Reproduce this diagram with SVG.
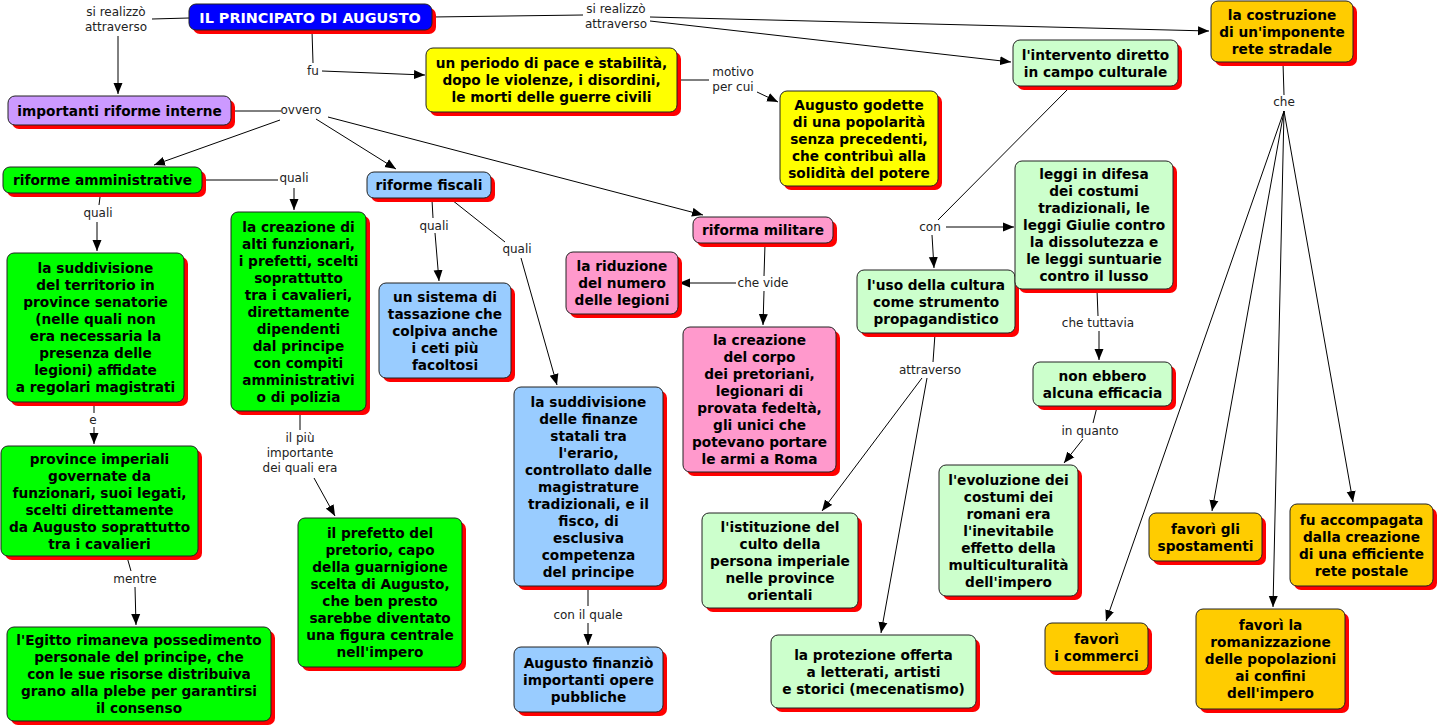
<svg xmlns="http://www.w3.org/2000/svg" width="1440" height="728" viewBox="0 0 1440 728">
<style>
.sh{fill:#ff0000}
.bx{stroke:#222;stroke-width:1}
.blue{fill:#0000ff}.purple{fill:#cc99ff}.green{fill:#00ff00}.lblue{fill:#99ccff}.pink{fill:#ff99cc}.yellow{fill:#ffff00}.lgreen{fill:#ccffcc}.orange{fill:#ffcc00}
.t{font-family:"DejaVu Sans",Verdana,sans-serif;font-weight:bold;font-size:13.7px;fill:#000;text-anchor:middle}
.tt{font-family:"DejaVu Sans",Verdana,sans-serif;font-weight:bold;font-size:14.4px;fill:#fff;text-anchor:middle}
.lb{font-family:"DejaVu Sans",Verdana,sans-serif;font-size:12px;fill:#222;text-anchor:middle}
.ln{stroke:#000;stroke-width:1;fill:none}
.ar{stroke:#000;stroke-width:1;fill:none;marker-end:url(#ah)}
</style>
<defs>
<marker id="ah" markerUnits="userSpaceOnUse" markerWidth="12" markerHeight="10" refX="11" refY="5" orient="auto"><path d="M0,0.5 L11,5 L0,9.5 z" fill="#000"/></marker>
</defs>
<rect width="1440" height="728" fill="#fff"/>
<g id="connectors">
<line class="ln" x1="189" y1="18" x2="152" y2="19"/>
<line class="ar" x1="118" y1="36" x2="118" y2="94"/>
<line class="ln" x1="312" y1="31" x2="313" y2="63"/>
<line class="ar" x1="322" y1="71" x2="425" y2="75"/>
<line class="ln" x1="432" y1="17" x2="583" y2="15"/>
<line class="ar" x1="650" y1="17" x2="1209" y2="31"/>
<line class="ar" x1="650" y1="21" x2="1011" y2="62"/>
<line class="ln" x1="677" y1="80" x2="709" y2="80"/>
<line class="ar" x1="757" y1="92" x2="778" y2="102"/>
<line class="ln" x1="231" y1="111" x2="281" y2="111"/>
<line class="ar" x1="280" y1="120" x2="154" y2="165"/>
<line class="ar" x1="316" y1="119" x2="396" y2="169"/>
<line class="ar" x1="328" y1="117" x2="703" y2="215"/>
<line class="ln" x1="202" y1="180" x2="278" y2="180"/>
<line class="ar" x1="294" y1="188" x2="294" y2="210"/>
<line class="ln" x1="100" y1="197" x2="99" y2="205"/>
<line class="ar" x1="97" y1="222" x2="97" y2="251"/>
<line class="ln" x1="432" y1="200" x2="433" y2="218"/>
<line class="ar" x1="435" y1="233" x2="439" y2="281"/>
<line class="ln" x1="452" y1="200" x2="505" y2="242"/>
<line class="ar" x1="521" y1="258" x2="557" y2="385"/>
<line class="ln" x1="765" y1="244" x2="764" y2="276"/>
<line class="ar" x1="736" y1="283" x2="679" y2="283"/>
<line class="ar" x1="764" y1="291" x2="763" y2="325"/>
<line class="ln" x1="1070" y1="87" x2="938" y2="220"/>
<line class="ar" x1="946" y1="227" x2="1014" y2="227"/>
<line class="ar" x1="932" y1="235" x2="934" y2="268"/>
<line class="ln" x1="1097" y1="290" x2="1098" y2="316"/>
<line class="ar" x1="1099" y1="331" x2="1099" y2="360"/>
<line class="ln" x1="1097" y1="407" x2="1093" y2="423"/>
<line class="ar" x1="1083" y1="439" x2="1064" y2="463"/>
<line class="ln" x1="935" y1="334" x2="933" y2="362"/>
<line class="ar" x1="922" y1="378" x2="822" y2="511"/>
<line class="ar" x1="927" y1="378" x2="881" y2="633"/>
<line class="ln" x1="588" y1="587" x2="588" y2="606"/>
<line class="ar" x1="588" y1="623" x2="588" y2="645"/>
<line class="ln" x1="1283" y1="63" x2="1284" y2="95"/>
<line class="ar" x1="1284" y1="111" x2="1106" y2="621"/>
<line class="ar" x1="1284" y1="111" x2="1212" y2="511"/>
<line class="ar" x1="1284" y1="111" x2="1273" y2="607"/>
<line class="ar" x1="1284" y1="111" x2="1353" y2="502"/>
<line class="ln" x1="94" y1="403" x2="94" y2="413"/>
<line class="ar" x1="94" y1="427" x2="94" y2="444"/>
<line class="ln" x1="127" y1="557" x2="131" y2="571"/>
<line class="ar" x1="135" y1="587" x2="136" y2="625"/>
<line class="ln" x1="300" y1="412" x2="300" y2="430"/>
<line class="ar" x1="314" y1="478" x2="335" y2="516"/>
</g>
<g id="labels">
<text class="lb" x="116" y="16">si realizzò</text><text class="lb" x="116" y="31">attraverso</text>
<text class="lb" x="313" y="75">fu</text>
<text class="lb" x="616" y="13">si realizzò</text><text class="lb" x="616" y="28">attraverso</text>
<text class="lb" x="733" y="76">motivo</text><text class="lb" x="733" y="91">per cui</text>
<text class="lb" x="301" y="114">ovvero</text>
<text class="lb" x="294" y="182">quali</text>
<text class="lb" x="98" y="217">quali</text>
<text class="lb" x="434" y="230">quali</text>
<text class="lb" x="517" y="253">quali</text>
<text class="lb" x="763" y="287">che vide</text>
<text class="lb" x="930" y="231">con</text>
<text class="lb" x="1098" y="327">che tuttavia</text>
<text class="lb" x="930" y="374">attraverso</text>
<text class="lb" x="1090" y="435">in quanto</text>
<text class="lb" x="588" y="619">con il quale</text>
<text class="lb" x="1284" y="106">che</text>
<text class="lb" x="93" y="424">e</text>
<text class="lb" x="135" y="583">mentre</text>
<text class="lb" x="300" y="442">il più</text><text class="lb" x="300" y="457">importante</text><text class="lb" x="300" y="472">dei quali era</text>
</g>
<g id="n-title"><rect class="sh" x="193" y="8" width="243" height="26" rx="7"/><rect class="bx blue" x="189" y="4" width="243" height="26" rx="7"/><text class="tt" x="310" y="23">IL PRINCIPATO DI AUGUSTO</text></g>
<g id="n-riforme-interne"><rect class="sh" x="12" y="100" width="223" height="29" rx="7"/><rect class="bx purple" x="8" y="96" width="223" height="29" rx="7"/><text class="t" x="119.5" y="115.5">importanti riforme interne</text></g>
<g id="n-pace"><rect class="sh" x="430" y="52" width="251" height="64" rx="7"/><rect class="bx yellow" x="426" y="48" width="251" height="64" rx="7"/><text class="t"><tspan x="551.5" y="68">un periodo di pace e stabilità,</tspan><tspan x="551.5" y="85">dopo le violenze, i disordini,</tspan><tspan x="551.5" y="102">le morti delle guerre civili</tspan></text></g>
<g id="n-popolarita"><rect class="sh" x="784" y="95" width="158" height="95" rx="7"/><rect class="bx yellow" x="780" y="91" width="158" height="95" rx="7"/><text class="t"><tspan x="859" y="109.5">Augusto godette</tspan><tspan x="859" y="126.5">di una popolarità</tspan><tspan x="859" y="143.5">senza precedenti,</tspan><tspan x="859" y="160.5">che contribuì alla</tspan><tspan x="859" y="177.5">solidità del potere</tspan></text></g>
<g id="n-intervento"><rect class="sh" x="1017" y="44" width="165" height="46" rx="7"/><rect class="bx lgreen" x="1013" y="40" width="165" height="46" rx="7"/><text class="t"><tspan x="1095.5" y="59.5">l'intervento diretto</tspan><tspan x="1095.5" y="76.5">in campo culturale</tspan></text></g>
<g id="n-rete"><rect class="sh" x="1215" y="5" width="142" height="61" rx="7"/><rect class="bx orange" x="1211" y="1" width="142" height="61" rx="7"/><text class="t"><tspan x="1282" y="19.5">la costruzione</tspan><tspan x="1282" y="36.5">di un'imponente</tspan><tspan x="1282" y="53.5">rete stradale</tspan></text></g>
<g id="n-amministrative"><rect class="sh" x="7" y="171" width="199" height="26" rx="7"/><rect class="bx green" x="3" y="167" width="199" height="26" rx="7"/><text class="t" x="102.5" y="185">riforme amministrative</text></g>
<g id="n-senatorie"><rect class="sh" x="11" y="257" width="177" height="149" rx="7"/><rect class="bx green" x="7" y="253" width="177" height="149" rx="7"/><text class="t"><tspan x="95.5" y="273">la suddivisione</tspan><tspan x="95.5" y="290">del territorio in</tspan><tspan x="95.5" y="307">province senatorie</tspan><tspan x="95.5" y="324">(nelle quali non</tspan><tspan x="95.5" y="341">era necessaria la</tspan><tspan x="95.5" y="358">presenza delle</tspan><tspan x="95.5" y="375">legioni) affidate</tspan><tspan x="95.5" y="392">a regolari magistrati</tspan></text></g>
<g id="n-funzionari"><rect class="sh" x="235" y="216" width="135" height="199" rx="7"/><rect class="bx green" x="231" y="212" width="135" height="199" rx="7"/><text class="t"><tspan x="298.5" y="231.5">la creazione di</tspan><tspan x="298.5" y="248.5">alti funzionari,</tspan><tspan x="298.5" y="265.5">i prefetti, scelti</tspan><tspan x="298.5" y="282.5">soprattutto</tspan><tspan x="298.5" y="299.5">tra i cavalieri,</tspan><tspan x="298.5" y="316.5">direttamente</tspan><tspan x="298.5" y="333.5">dipendenti</tspan><tspan x="298.5" y="350.5">dal principe</tspan><tspan x="298.5" y="367.5">con compiti</tspan><tspan x="298.5" y="384.5">amministrativi</tspan><tspan x="298.5" y="401.5">o di polizia</tspan></text></g>
<g id="n-fiscali"><rect class="sh" x="371" y="176" width="124" height="26" rx="7"/><rect class="bx lblue" x="367" y="172" width="124" height="26" rx="7"/><text class="t" x="429" y="190">riforme fiscali</text></g>
<g id="n-tassazione"><rect class="sh" x="383" y="287" width="132" height="95" rx="7"/><rect class="bx lblue" x="379" y="283" width="132" height="95" rx="7"/><text class="t"><tspan x="445" y="301.5">un sistema di</tspan><tspan x="445" y="318.5">tassazione che</tspan><tspan x="445" y="335.5">colpiva anche</tspan><tspan x="445" y="352.5">i ceti più</tspan><tspan x="445" y="369.5">facoltosi</tspan></text></g>
<g id="n-militare"><rect class="sh" x="697" y="221" width="140" height="26" rx="7"/><rect class="bx pink" x="693" y="217" width="140" height="26" rx="7"/><text class="t" x="763" y="235">riforma militare</text></g>
<g id="n-legioni"><rect class="sh" x="570" y="256" width="112" height="62" rx="7"/><rect class="bx pink" x="566" y="252" width="112" height="62" rx="7"/><text class="t"><tspan x="622" y="271">la riduzione</tspan><tspan x="622" y="288">del numero</tspan><tspan x="622" y="305">delle legioni</tspan></text></g>
<g id="n-pretoriani"><rect class="sh" x="687" y="331" width="153" height="145" rx="7"/><rect class="bx pink" x="683" y="327" width="153" height="145" rx="7"/><text class="t"><tspan x="759.5" y="345">la creazione</tspan><tspan x="759.5" y="362">del corpo</tspan><tspan x="759.5" y="379">dei pretoriani,</tspan><tspan x="759.5" y="396">legionari di</tspan><tspan x="759.5" y="413">provata fedeltà,</tspan><tspan x="759.5" y="430">gli unici che</tspan><tspan x="759.5" y="447">potevano portare</tspan><tspan x="759.5" y="464">le armi a Roma</tspan></text></g>
<g id="n-finanze"><rect class="sh" x="518" y="391" width="149" height="199" rx="7"/><rect class="bx lblue" x="514" y="387" width="149" height="199" rx="7"/><text class="t"><tspan x="588.5" y="406.5">la suddivisione</tspan><tspan x="588.5" y="423.5">delle finanze</tspan><tspan x="588.5" y="440.5">statali tra</tspan><tspan x="588.5" y="457.5">l'erario,</tspan><tspan x="588.5" y="474.5">controllato dalle</tspan><tspan x="588.5" y="491.5">magistrature</tspan><tspan x="588.5" y="508.5">tradizionali, e il</tspan><tspan x="588.5" y="525.5">fisco, di</tspan><tspan x="588.5" y="542.5">esclusiva</tspan><tspan x="588.5" y="559.5">competenza</tspan><tspan x="588.5" y="576.5">del principe</tspan></text></g>
<g id="n-opere"><rect class="sh" x="518" y="651" width="149" height="65" rx="7"/><rect class="bx lblue" x="514" y="647" width="149" height="65" rx="7"/><text class="t"><tspan x="588.5" y="667.5">Augusto finanziò</tspan><tspan x="588.5" y="684.5">importanti opere</tspan><tspan x="588.5" y="701.5">pubbliche</tspan></text></g>
<g id="n-cultura"><rect class="sh" x="861" y="274" width="158" height="63" rx="7"/><rect class="bx lgreen" x="857" y="270" width="158" height="63" rx="7"/><text class="t"><tspan x="936" y="289.5">l'uso della cultura</tspan><tspan x="936" y="306.5">come strumento</tspan><tspan x="936" y="323.5">propagandistico</tspan></text></g>
<g id="n-leggi"><rect class="sh" x="1019" y="165" width="158" height="128" rx="7"/><rect class="bx lgreen" x="1015" y="161" width="158" height="128" rx="7"/><text class="t"><tspan x="1094" y="179">leggi in difesa</tspan><tspan x="1094" y="196">dei costumi</tspan><tspan x="1094" y="213">tradizionali, le</tspan><tspan x="1094" y="230">leggi Giulie contro</tspan><tspan x="1094" y="247">la dissolutezza e</tspan><tspan x="1094" y="264">le leggi suntuarie</tspan><tspan x="1094" y="281">contro il lusso</tspan></text></g>
<g id="n-efficacia"><rect class="sh" x="1037" y="366" width="139" height="44" rx="7"/><rect class="bx lgreen" x="1033" y="362" width="139" height="44" rx="7"/><text class="t"><tspan x="1102.5" y="380.5">non ebbero</tspan><tspan x="1102.5" y="397.5">alcuna efficacia</tspan></text></g>
<g id="n-evoluzione"><rect class="sh" x="943" y="469" width="139" height="131" rx="7"/><rect class="bx lgreen" x="939" y="465" width="139" height="131" rx="7"/><text class="t"><tspan x="1008.5" y="484.5">l'evoluzione dei</tspan><tspan x="1008.5" y="501.5">costumi dei</tspan><tspan x="1008.5" y="518.5">romani era</tspan><tspan x="1008.5" y="535.5">l'inevitabile</tspan><tspan x="1008.5" y="552.5">effetto della</tspan><tspan x="1008.5" y="569.5">multiculturalità</tspan><tspan x="1008.5" y="586.5">dell'impero</tspan></text></g>
<g id="n-spostamenti"><rect class="sh" x="1153" y="517" width="113" height="48" rx="7"/><rect class="bx orange" x="1149" y="513" width="113" height="48" rx="7"/><text class="t"><tspan x="1205.5" y="533.5">favorì gli</tspan><tspan x="1205.5" y="550.5">spostamenti</tspan></text></g>
<g id="n-postale"><rect class="sh" x="1294" y="508" width="143" height="82" rx="7"/><rect class="bx orange" x="1290" y="504" width="143" height="82" rx="7"/><text class="t"><tspan x="1361.5" y="524.5">fu accompagata</tspan><tspan x="1361.5" y="541.5">dalla creazione</tspan><tspan x="1361.5" y="558.5">di una efficiente</tspan><tspan x="1361.5" y="575.5">rete postale</tspan></text></g>
<g id="n-commerci"><rect class="sh" x="1049" y="627" width="103" height="48" rx="7"/><rect class="bx orange" x="1045" y="623" width="103" height="48" rx="7"/><text class="t"><tspan x="1096.5" y="643.5">favorì</tspan><tspan x="1096.5" y="660.5">i commerci</tspan></text></g>
<g id="n-romanizzazione"><rect class="sh" x="1200" y="613" width="149" height="100" rx="7"/><rect class="bx orange" x="1196" y="609" width="149" height="100" rx="7"/><text class="t"><tspan x="1270.5" y="630">favorì la</tspan><tspan x="1270.5" y="647">romanizzazione</tspan><tspan x="1270.5" y="664">delle popolazioni</tspan><tspan x="1270.5" y="681">ai confini</tspan><tspan x="1270.5" y="698">dell'impero</tspan></text></g>
<g id="n-mecenatismo"><rect class="sh" x="775" y="639" width="205" height="73" rx="7"/><rect class="bx lgreen" x="771" y="635" width="205" height="73" rx="7"/><text class="t"><tspan x="873.5" y="659.5">la protezione offerta</tspan><tspan x="873.5" y="676.5">a letterati, artisti</tspan><tspan x="873.5" y="693.5">e storici (mecenatismo)</tspan></text></g>
<g id="n-culto"><rect class="sh" x="706" y="517" width="156" height="95" rx="7"/><rect class="bx lgreen" x="702" y="513" width="156" height="95" rx="7"/><text class="t"><tspan x="780" y="531.5">l'istituzione del</tspan><tspan x="780" y="548.5">culto della</tspan><tspan x="780" y="565.5">persona imperiale</tspan><tspan x="780" y="582.5">nelle province</tspan><tspan x="780" y="599.5">orientali</tspan></text></g>
<g id="n-imperiali"><rect class="sh" x="5" y="450" width="197" height="110" rx="7"/><rect class="bx green" x="1" y="446" width="197" height="110" rx="7"/><text class="t"><tspan x="99.5" y="463.5">province imperiali</tspan><tspan x="99.5" y="480.5">governate da</tspan><tspan x="99.5" y="497.5">funzionari, suoi legati,</tspan><tspan x="99.5" y="514.5">scelti direttamente</tspan><tspan x="99.5" y="531.5">da Augusto soprattutto</tspan><tspan x="99.5" y="548.5">tra i cavalieri</tspan></text></g>
<g id="n-egitto"><rect class="sh" x="11" y="631" width="264" height="94" rx="7"/><rect class="bx green" x="7" y="627" width="264" height="94" rx="7"/><text class="t"><tspan x="139" y="645">l'Egitto rimaneva possedimento</tspan><tspan x="139" y="662">personale del principe, che</tspan><tspan x="139" y="679">con le sue risorse distribuiva</tspan><tspan x="139" y="696">grano alla plebe per garantirsi</tspan><tspan x="139" y="713">il consenso</tspan></text></g>
<g id="n-prefetto"><rect class="sh" x="302" y="522" width="164" height="149" rx="7"/><rect class="bx green" x="298" y="518" width="164" height="149" rx="7"/><text class="t"><tspan x="380" y="538">il prefetto del</tspan><tspan x="380" y="555">pretorio, capo</tspan><tspan x="380" y="572">della guarnigione</tspan><tspan x="380" y="589">scelta di Augusto,</tspan><tspan x="380" y="606">che ben presto</tspan><tspan x="380" y="623">sarebbe diventato</tspan><tspan x="380" y="640">una figura centrale</tspan><tspan x="380" y="657">nell'impero</tspan></text></g>
</svg>
